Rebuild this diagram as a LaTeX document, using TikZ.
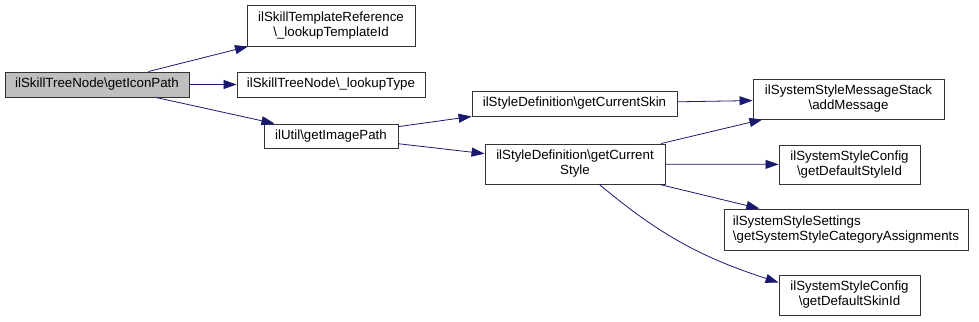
\documentclass[tikz,border=0pt]{standalone}
\usepackage{fontspec}
\setmainfont{Liberation Sans}
\usetikzlibrary{arrows.meta,positioning}
\definecolor{edgeblue}{HTML}{191970}
\definecolor{rootgray}{HTML}{BFBFBF}
\definecolor{boxline}{HTML}{333333}

\begin{document}
\begin{tikzpicture}[
  x=1pt, y=-1pt,
  font=\fontsize{13.3}{15}\selectfont,
  flow/.style={-{Triangle[length=13pt,width=9pt]}, line width=0.8pt, draw=edgeblue},
  fnbox/.style={draw=boxline, line width=0.9pt, fill=white, align=center,
                inner sep=0pt, minimum height=25pt},
  rootbox/.style={fnbox, fill=rootgray}
]
\useasboundingbox (0,0) rectangle (979,321);

% caller
\node[rootbox, minimum width=184pt] (root) at (97,84.5) {ilSkillTreeNode\textbackslash getIconPath};

% first level
\node[fnbox, minimum width=168pt, minimum height=41pt] (tmpl) at (331,25.5)
  {ilSkillTemplateReference\\\textbackslash\_lookupTemplateId};
\node[fnbox, minimum width=188pt] (type) at (331,84.5) {ilSkillTreeNode\textbackslash\_lookupType};
\node[fnbox, minimum width=134pt, minimum height=24pt] (util) at (331,136) {ilUtil\textbackslash getImagePath};
\draw[flow] (root) -- (tmpl);
\draw[flow] (root) -- (type);
\draw[flow] (root) -- (util);

% style definition
\node[fnbox, minimum width=205pt] (skin) at (574.5,103.5) {ilStyleDefinition\textbackslash getCurrentSkin};
\node[fnbox, minimum width=180pt, minimum height=40pt] (style) at (575,164)
  {ilStyleDefinition\textbackslash getCurrent\\Style};
\draw[flow] (util) -- (skin.south west);
\draw[flow] (util) -- (style);

% system style
\node[fnbox, minimum width=191pt, minimum height=40pt] (msg) at (848.5,99)
  {ilSystemStyleMessageStack\\\textbackslash addMessage};
\node[fnbox, minimum width=141pt, minimum height=39pt] (cfgstyle) at (849.5,164.5)
  {ilSystemStyleConfig\\\textbackslash getDefaultStyleId};
\node[fnbox, minimum width=244pt, minimum height=41pt, align=left] (settings) at (846,229.5)
  {ilSystemStyleSettings\\\textbackslash getSystemStyleCategoryAssignments};
\node[fnbox, minimum width=141pt, minimum height=40pt] (cfgskin) at (849.5,295)
  {ilSystemStyleConfig\\\textbackslash getDefaultSkinId};
\draw[flow] (skin) -- (msg);
\draw[flow] (style) -- (msg);
\draw[flow] (style) -- (cfgstyle);
\draw[flow] (style) -- (settings);
\draw[flow] (style.-40) to[out=-40, in=162] (cfgskin.170);

\end{tikzpicture}
\end{document}
